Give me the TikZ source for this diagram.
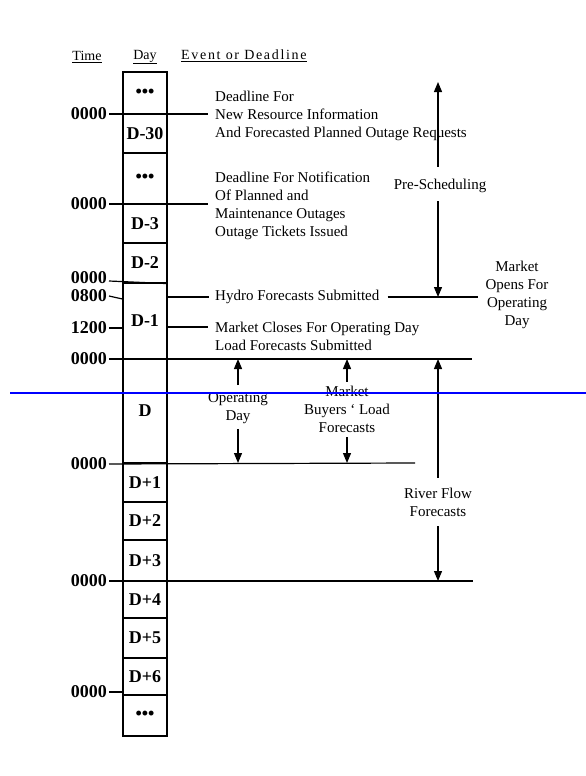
\documentclass[tikz,border=0pt]{standalone}
\usepackage{fontspec}
\setmainfont{Liberation Serif}
\usetikzlibrary{arrows.meta,positioning}

\begin{document}
\begin{tikzpicture}[
  x=1pt,y=-1pt,
  font=\fontsize{15}{18}\selectfont,
  hdr/.style={font=\fontsize{14}{16}\selectfont,inner sep=0pt},
  tlab/.style={font=\fontsize{18}{20}\selectfont\bfseries,anchor=east,inner sep=0pt},
  daycell/.style={draw,line width=1.2pt,minimum width=44pt,inner sep=0pt,font=\fontsize{18}{20}\selectfont\bfseries},
  ev/.style={align=left,anchor=west,inner sep=0pt},
  note/.style={align=center,inner sep=0pt},
  tl/.style={line width=1.2pt},
  arr/.style={line width=1.2pt,-{Triangle[length=10pt,width=8pt]}}
]
\useasboundingbox[fill=white] (0,0) rectangle (586,776);

\node[hdr] (hT) at (87,57) {\underline{Time}};
\node[hdr] (hD) at (145,57) {\underline{Day}};
\node[hdr,anchor=west] (hE) at (181,56) {\underline{\addfontfeature{LetterSpace=12}Event or Deadline}};

\foreach \lab/\ya/\yb [count=\i] in {•••/72/114, D-30/114/153, •••/153/204, D-3/204/243,
    D-2/243/283, D-1/283/359, D/359/463, D+1/463/502, D+2/502/540, D+3/540/581,
    D+4/581/618, D+5/618/658, D+6/658/695, •••/695/736}
  \node[daycell,minimum height={\yb-\ya}] (c\i) at (145,{(\ya+\yb)/2}) {\lab};

\node[tlab] (t1) at (107,114) {0000};
\node[tlab] (t2) at (107,204) {0000};
\node[tlab] (t3) at (107,278) {0000};
\node[tlab] (t4) at (107,296) {0800};
\node[tlab] (t5) at (107,328) {1200};
\node[tlab] (t6) at (107,359) {0000};
\node[tlab] (t7) at (107,464) {0000};
\node[tlab] (t8) at (107,581) {0000};
\node[tlab] (t9) at (107,692) {0000};

\coordinate (r1) at (208,114);
\coordinate (r2) at (208,204);
\coordinate (r6) at (472,359);
\coordinate (r7) at (415,463);
\coordinate (r8) at (473,581);
\coordinate (mc) at (208,327);
\coordinate (h) at (478,297);
\coordinate (pt) at (438,82);

\draw[tl] ([xshift=2pt]t1.east) -- (r1);
\draw[tl] ([xshift=2pt]t2.east) -- (r2);
\draw[tl] ([xshift=2pt,yshift=-3pt]t3.east) -- (c5.south east);
\draw[tl] ([xshift=2pt]t4.east) -- ([yshift=-3pt]t4.east -| c6.west);
\draw[tl] ([xshift=2pt]t5.east) -- (t5.east -| c6.west);
\draw[tl] ([xshift=2pt]t6.east) -- (r6);
\draw[tl] ([xshift=2pt]t7.east) -- (r7);
\draw[tl] ([xshift=2pt]t8.east) -- (r8);
\draw[tl] ([xshift=2pt]t9.east) -- (t9.east -| c13.west);

\node[ev] (ev1) at (215,116) {Deadline For\\New Resource Information\\And Forecasted Planned Outage Requests};
\node[ev] (ev2) at (215,206) {Deadline For Notification\\Of Planned and\\Maintenance Outages\\Outage Tickets Issued};
\node[ev] (ev3) at (215,297) {Hydro Forecasts Submitted};
\node[ev,anchor=north west] (ev4) at (215,322) {Market Closes For Operating Day\\Load Forecasts Submitted};

\draw[tl] (ev3.west -| c6.east) -- ([xshift=-6pt]ev3.west);
\draw[tl] (mc -| c6.east) -- (mc);
\draw[tl] ([xshift=8pt]ev3.east) -- (h);

\node[note] (pre) at (440,186) {Pre-Scheduling};
\node[note] (mo) at (517,295) {Market\\Opens For\\Operating\\Day};
\node[note] (od) at (238,408) {Operating\\Day};
\node[note] (mb) at (347,409) {Market\\Buyers ` Load\\Forecasts};
\node[note] (rf) at (438,502) {River Flow\\Forecasts};

\draw[arr] ([yshift=12pt]pre.north -| pt) -- (pt);
\draw[arr] ([yshift=-8pt]pre.south -| pt) -- (pt |- h);
\draw[arr] ([yshift=7pt]od.north) -- (od.north |- r6);
\draw[arr] ([yshift=-5pt]od.south) -- (od.south |- r7);
\draw[arr] ([yshift=4pt]mb.north) -- (mb.north |- r6);
\draw[arr] ([yshift=-5pt]mb.south) -- (mb.south |- r7);
\draw[arr] ([yshift=10pt]rf.north) -- (rf.north |- r6);
\draw[arr] ([yshift=-10pt]rf.south) -- (rf.south |- r8);

\draw[blue,line width=2pt] (10,393) -- (586,393);
\end{tikzpicture}
\end{document}
